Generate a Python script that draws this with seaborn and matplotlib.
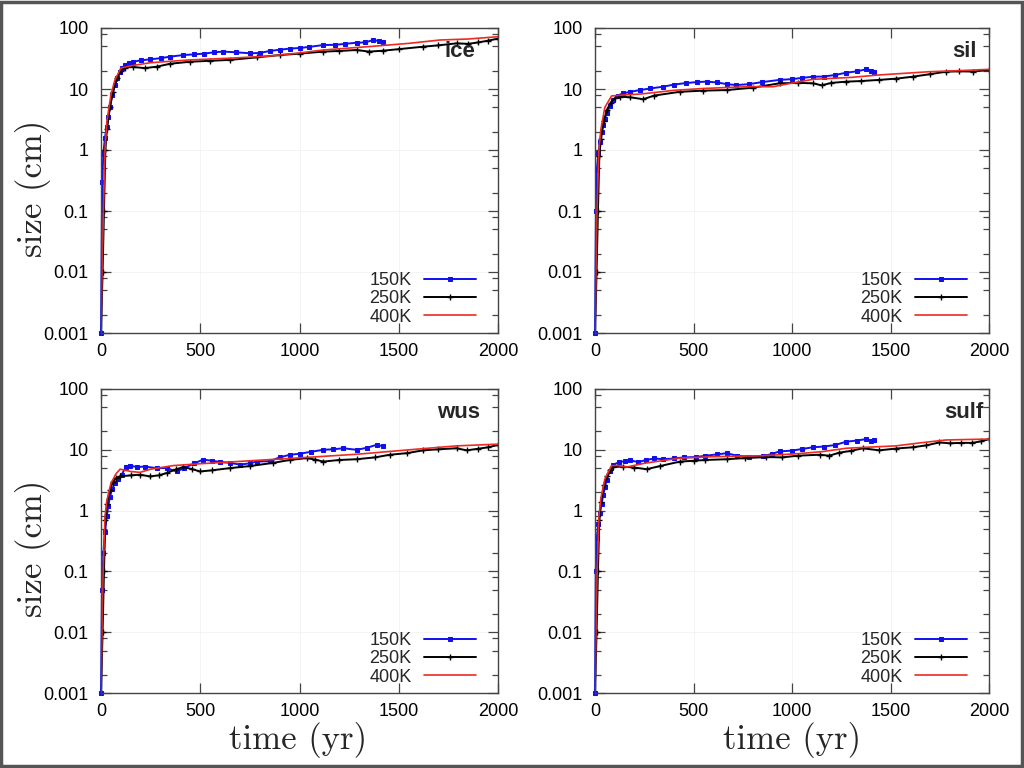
import numpy as np
import pandas as pd
import matplotlib
matplotlib.use("Agg")
import matplotlib.pyplot as plt
import matplotlib.ticker as mticker
from matplotlib.patches import Rectangle
import seaborn as sns

# ---- data (time in yr, size in cm) ----
panel_names = ["ice", "sil", "wus", "sulf"]
series_labels = ["150K", "250K", "400K"]
ytick_vals = [0.001, 0.01, 0.1, 1, 10, 100]
ytick_labels = ["0.001", "0.01", "0.1", "1", "10", "100"]
xtick_vals = [0, 500, 1000, 1500, 2000]

ice_t150 = [0, 6, 12, 20, 29, 37, 45, 57, 70, 83, 96, 108, 121, 140, 163, 200, 247, 300, 350, 415,
            470, 520, 570, 616, 680, 750, 800, 850, 900, 952, 1000, 1050, 1120, 1180, 1230, 1288,
            1330, 1372, 1400, 1422]
ice_v150 = [0.001, 0.3, 0.89, 1.6, 2.4, 3.5, 5.1, 8, 11.6, 15, 19, 22.5, 24.7, 27, 28, 29.5, 30.6,
            32, 34, 36, 37, 38, 40, 41, 40, 38.5, 39, 42, 44, 46, 47, 49, 52.6, 53, 55, 57.4, 58,
            63.6, 61, 60]
ice_t250 = [0, 8, 15, 22, 30, 45, 60, 80, 100, 120, 160, 220, 280, 350, 450, 550, 650, 784, 900,
            1000, 1120, 1200, 1288, 1350, 1422, 1500, 1623, 1700, 1791, 1850, 1900, 1950, 2000]
ice_v250 = [0.001, 0.01, 0.1, 1, 2.2, 5, 9, 15, 20, 22.5, 23, 22, 23.2, 26, 28, 29, 30, 33, 36,
            38, 41, 42, 43.6, 41, 42.5, 45, 49.4, 52, 56, 55, 58, 62, 67]
ice_t400 = [0, 5, 10, 20, 30, 50, 70, 100, 150, 250, 448, 650, 851, 1000, 1120, 1389, 1550, 1708,
            1850, 2000]
ice_v400 = [0.001, 0.01, 0.05, 1, 3, 8, 14, 22, 24, 27, 30, 32, 34.7, 39, 43.6, 50.7, 56, 63.6,
            66, 72]

sil_t150 = [0, 5, 9, 17, 25, 33, 42, 50, 59, 75, 93, 115, 144, 180, 228, 280, 345, 400, 460, 520,
            566, 620, 670, 718, 780, 850, 937, 1000, 1050, 1106, 1160, 1220, 1275, 1330, 1376,
            1400, 1418]
sil_v150 = [0.001, 0.1, 0.47, 0.9, 1.37, 2, 2.6, 3.2, 4, 5.3, 6.6, 7.8, 8.5, 9, 9.6, 10.2, 10.9,
            11.8, 12.5, 13, 13.2, 12.8, 12, 11.6, 12, 13, 14.1, 14.5, 15.2, 15.9, 16, 17, 18.5,
            19.5, 21, 20, 19]
sil_t250 = [0, 8, 15, 22, 30, 45, 60, 80, 100, 127, 180, 245, 300, 431, 550, 668, 800, 937, 1030,
            1106, 1150, 1200, 1275, 1350, 1443, 1530, 1612, 1700, 1781, 1850, 1920, 2000]
sil_v250 = [0.001, 0.01, 0.1, 0.8, 1.5, 3, 4.5, 6, 7, 7.5, 7.3, 6.8, 7.8, 9, 9.4, 9.6, 10.5,
            12.4, 12.6, 12.4, 11.5, 12.6, 13.2, 13.5, 14.1, 14.8, 15.9, 17.5, 19.2, 19.5, 19.3,
            20.5]
sil_t400 = [0, 5, 10, 20, 30, 50, 84, 150, 237, 400, 550, 769, 904, 1000, 1106, 1300, 1443, 1697,
            1850, 2000]
sil_v400 = [0.001, 0.01, 0.1, 1, 2.2, 5, 7.7, 8.0, 8.3, 9.5, 10.2, 10.9, 10.9, 12.5, 14.4, 15.5,
            17, 19.2, 20, 21]

wus_t150 = [0, 5, 12, 20, 29, 37, 45, 57, 70, 85, 104, 125, 146, 180, 220, 280, 330, 381, 420,
            470, 515, 560, 600, 650, 700, 750, 784, 850, 900, 952, 1000, 1060, 1120, 1170, 1221,
            1288, 1340, 1389, 1422]
wus_v150 = [0.001, 0.05, 0.2, 0.45, 0.8, 1.2, 1.7, 2.3, 2.8, 3.3, 3.9, 5.2, 5.5, 5.2, 5.3, 5.0,
            5.0, 4.4, 5.0, 6.0, 6.9, 6.6, 6.3, 6.1, 5.7, 6.0, 6.4, 6.5, 7.5, 8.3, 8.6, 9.3, 10,
            10.2, 10.6, 10, 10.8, 12.1, 11.4]
wus_t250 = [0, 8, 15, 22, 30, 45, 60, 75, 96, 150, 196, 247, 290, 331, 380, 415, 460, 499, 560,
            650, 750, 868, 950, 1036, 1080, 1120, 1200, 1288, 1380, 1456, 1540, 1623, 1700, 1791,
            1842, 1900, 1950, 2000]
wus_v250 = [0.001, 0.01, 0.1, 0.7, 1.3, 2.2, 3.0, 3.4, 3.65, 3.8, 3.9, 3.65, 3.8, 4.15, 4.8, 5.2,
            4.8, 4.4, 4.6, 5.0, 5.4, 6.1, 6.8, 7.3, 6.9, 6.4, 6.8, 7.0, 7.5, 8.3, 8.8, 9.8, 10.2,
            10.6, 9.8, 10.4, 11, 12]
wus_t400 = [0, 5, 10, 20, 30, 50, 75, 96, 150, 196, 250, 364, 500, 650, 784, 950, 1120, 1300,
            1456, 1600, 1791, 1900, 2000]
wus_v400 = [0.001, 0.01, 0.08, 0.8, 1.5, 2.8, 4.0, 4.8, 4.4, 4.25, 4.8, 5.5, 5.9, 6.3, 6.7, 7.2,
            7.8, 8.5, 9.4, 10.3, 11.6, 12, 12.4]

sulf_t150 = [0, 4, 9, 17, 25, 33, 42, 50, 59, 75, 93, 120, 150, 177, 220, 260, 300, 346, 400,
             450, 515, 560, 620, 668, 720, 780, 853, 900, 937, 1000, 1050, 1106, 1160, 1220,
             1275, 1330, 1376, 1400, 1418]
sulf_v150 = [0.001, 0.1, 0.36, 0.6, 0.92, 1.3, 1.8, 2.4, 3.2, 4.5, 5.7, 6.2, 6.5, 6.7, 6.3, 6.8,
             7.2, 7.0, 7.2, 7.5, 7.6, 8.0, 8.4, 8.8, 8.0, 7.7, 7.8, 8.6, 9.4, 9.7, 10.3, 11, 11.3,
             12, 13.6, 14.2, 15, 14, 14.5]
sulf_t250 = [0, 8, 15, 22, 30, 45, 60, 75, 93, 140, 200, 262, 330, 431, 500, 560, 668, 760, 870,
             950, 1030, 1140, 1190, 1241, 1300, 1359, 1443, 1530, 1612, 1680, 1748, 1800, 1860,
             1916, 1960, 2000]
sulf_v250 = [0.001, 0.01, 0.1, 0.7, 1.4, 2.6, 3.7, 4.6, 5.2, 5.3, 5.1, 4.8, 5.4, 6.4, 6.6, 6.8,
             7.0, 7.3, 7.6, 7.5, 8.0, 8.3, 8.0, 9.0, 9.6, 10.6, 9.8, 10.5, 11, 11.8, 13.2, 12.8,
             13, 13, 13.8, 15]
sulf_t400 = [0, 5, 10, 20, 30, 50, 84, 120, 160, 250, 431, 600, 853, 1022, 1150, 1275, 1400, 1527,
             1650, 1781, 1900, 2000]
sulf_v400 = [0.001, 0.01, 0.08, 0.8, 1.6, 3.3, 5.5, 5.5, 5.2, 6.0, 7.3, 7.7, 8.0, 8.6, 9.3, 10.6,
             11.1, 11.6, 13, 14.5, 14.8, 15]

panel_data = {
    "ice": [(ice_t150, ice_v150), (ice_t250, ice_v250), (ice_t400, ice_v400)],
    "sil": [(sil_t150, sil_v150), (sil_t250, sil_v250), (sil_t400, sil_v400)],
    "wus": [(wus_t150, wus_v150), (wus_t250, wus_v250), (wus_t400, wus_v400)],
    "sulf": [(sulf_t150, sulf_v150), (sulf_t250, sulf_v250), (sulf_t400, sulf_v400)],
}

# ---- styling ----
sns.set_style("ticks")
plt.rcParams["font.family"] = ["Liberation Sans", "DejaVu Sans"]

blue, red = "#1010ee", "#ee2a22"
styles = [
    dict(color=blue, marker="s", markersize=2.4, markeredgecolor=blue, markerfacecolor=blue,
         linewidth=1.4, clip_on=False),
    dict(color="black", marker="+", markersize=4, markeredgewidth=1.0, markeredgecolor="black",
         linewidth=1.4),
    dict(color=red, marker=None, linewidth=1.2),
]
spine_col = "#444444"

fig = plt.figure(figsize=(10.24, 7.68), dpi=100)
W, H = 1024.0, 768.0
# pixel boxes (left, top, right, bottom)
boxes = [(101, 28, 498, 333), (595, 28, 989, 333), (101, 389, 498, 693), (595, 389, 989, 693)]
tag_pos = [0.942, 0.970, 0.955, 0.987]

for i, name in enumerate(panel_names):
    l, t, r, b = boxes[i]
    ax = fig.add_axes([l / W, 1 - b / H, (r - l) / W, (b - t) / H])
    for (tt, vv), lab, st in zip(panel_data[name], series_labels, styles):
        sns.lineplot(x=tt, y=vv, ax=ax, label=lab, estimator=None, sort=False, **st)
    ax.set_yscale("log")
    ax.set_xlim(0, 2000)
    ax.set_ylim(0.001, 100)
    ax.set_yticks(ytick_vals)
    ax.set_yticklabels(ytick_labels)
    ax.yaxis.set_minor_locator(mticker.LogLocator(base=10, subs=[2, 5, 8], numticks=20))
    ax.yaxis.set_minor_formatter(mticker.NullFormatter())
    ax.set_xticks(xtick_vals)
    ax.tick_params(which="both", direction="in", top=True, right=True, colors=spine_col,
                   labelcolor="black", labelsize=13)
    ax.tick_params(which="major", length=7, width=0.9, pad=7)
    ax.tick_params(which="minor", length=4, width=0.9)
    ax.tick_params(axis="y", which="major", pad=9)
    ax.grid(True, which="major", color="#f2f2f2", linewidth=0.6)
    for sp in ax.spines.values():
        sp.set_color(spine_col)
        sp.set_linewidth(1.0)
    ax.set_xlabel("")
    ax.set_ylabel("")
    ax.text(tag_pos[i], 0.922, name, transform=ax.transAxes, ha="right", va="center",
            fontsize=16, fontweight="bold")
    ax.legend(loc="lower right", bbox_to_anchor=(0.962, 0.0), borderaxespad=0.0, frameon=False,
              markerfirst=False, handlelength=2.85, handletextpad=0.7, labelspacing=0.08,
              fontsize=13, numpoints=1)

# axis titles in a Computer Modern look
for yc in [188, 548]:
    fig.text(33 / W, 1 - yc / H, "size (cm)", rotation=90, ha="center", va="center",
             fontsize=25, family="cmr10")
for xc in [298.5, 792]:
    fig.text(xc / W, 1 - 740 / H, "time (yr)", ha="center", va="center",
             fontsize=25, family="cmr10")

# page frame
fig.patches.append(Rectangle((0.001, 0.002), 0.997, 0.996, transform=fig.transFigure,
                             fill=False, edgecolor="#555555", linewidth=2.5))

fig.savefig("out.png", dpi=100)
